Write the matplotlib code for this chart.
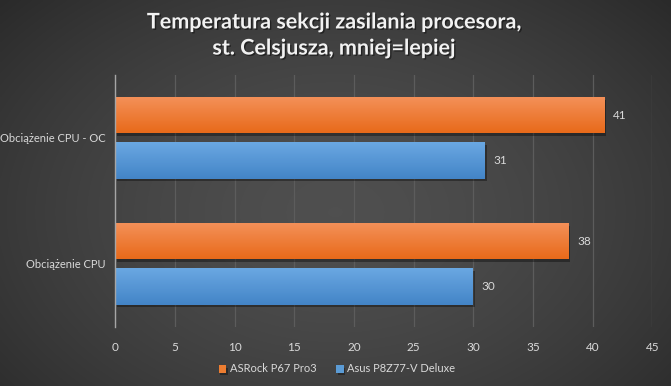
import matplotlib
matplotlib.use('Agg')
import matplotlib.pyplot as plt
import matplotlib.patheffects as pe
import numpy as np

# data
categories = ['Obciążenie CPU', 'Obciążenie CPU - OC']
series_names = ['ASRock P67 Pro3', 'Asus P8Z77-V Deluxe']
asrock = [38, 41]
asus = [30, 31]
xticks = [0, 5, 10, 15, 20, 25, 30, 35, 40, 45]

title = 'Temperatura sekcji zasilania procesora,\nst. Celsjusza, mniej=lepiej'

plt.rcParams['font.family'] = ['Lato', 'DejaVu Sans']
txt_col = '#d9d9d9'

fig = plt.figure(figsize=(6.71, 3.86), dpi=100)

# background radial gradient
bg = fig.add_axes([0, 0, 1, 1], zorder=-10)
yy, xx = np.mgrid[0:1:200j, 0:1:350j]
r = np.sqrt(((xx - 0.5) / 0.75) ** 2 + ((yy - 0.55) / 0.9) ** 2)
shade = np.clip(0.31 - 0.17 * r ** 1.6, 0.13, 0.33)
bg.imshow(np.dstack([shade] * 3), aspect='auto', extent=[0, 1, 0, 1], interpolation='bilinear')
bg.set_axis_off()

ax = fig.add_axes([115.3 / 671, 1 - 326.7 / 386, (652.3 - 115.3) / 671, (326.7 - 74.7) / 386])
ax.set_facecolor('none')

y = np.arange(len(categories))
h = 0.29
off = 0.18
shadow = [pe.SimplePatchShadow(offset=(1, -2), shadow_rgbFace='black', alpha=0.35), pe.Normal()]

bars_a = ax.barh(y + off, asrock, height=h, color='#ED7D31', label=series_names[0], zorder=3,
                 path_effects=shadow)
bars_b = ax.barh(y - off, asus, height=h, color='#5B9BD5', label=series_names[1], zorder=3,
                 path_effects=shadow)

# vertical gradient fill on bars
def grad(bars, top, bot):
    top = np.array(matplotlib.colors.to_rgb(top))
    bot = np.array(matplotlib.colors.to_rgb(bot))
    t = np.linspace(0, 1, 64)[:, None]
    img = (top * (1 - t) + bot * t)[:, None, :]
    for b in bars:
        x0, y0 = b.get_x(), b.get_y()
        im = ax.imshow(img, aspect='auto', extent=[x0, x0 + b.get_width(), y0, y0 + b.get_height()],
                       zorder=4, interpolation='bilinear')
        im.set_clip_path(b)

grad(bars_a, '#F4915A', '#E86A1A')
grad(bars_b, '#6AA8E2', '#4384C7')

for bars, vals in ((bars_a, asrock), (bars_b, asus)):
    for b, v in zip(bars, vals):
        ax.annotate(str(v), (v, b.get_y() + b.get_height() / 2), xytext=(6, 0),
                    textcoords='offset points', va='center', ha='left', color=txt_col, fontsize=8.5)

ax.set_xlim(0, 45)
ax.set_ylim(-0.5, 1.5)
ax.set_xticks(xticks)
ax.set_xticklabels([str(v) for v in xticks], color=txt_col, fontsize=8.5)
ax.set_yticks(y)
ax.set_yticklabels(categories, color=txt_col, fontsize=8)
ax.tick_params(length=0, pad=7)
ax.tick_params(axis='x', pad=11)
ax.grid(axis='x', color='#5c5c5c', linewidth=0.9, zorder=0)
ax.set_axisbelow(True)
for s in ['top', 'right', 'bottom']:
    ax.spines[s].set_visible(False)
ax.spines['left'].set_color('#a6a6a6')
ax.spines['left'].set_linewidth(1.0)
ax.spines['left'].set_zorder(5)

fig.text(0.497, 1 - 35 / 386, title, ha='center', va='center', color='#f2f2f2',
         fontsize=15.5, fontweight='bold', linespacing=1.3,
         path_effects=[pe.withSimplePatchShadow(offset=(1, -1), shadow_rgbFace='black', alpha=0.45)])

leg = fig.legend(handles=[bars_a, bars_b], labels=series_names, loc='center',
                 bbox_to_anchor=(337 / 671, 1 - 369 / 386), ncol=2, frameon=False,
                 fontsize=8, handlelength=0.7, handleheight=0.7, handletextpad=0.3,
                 columnspacing=1.8, labelcolor=txt_col)

fig.savefig('out.png', dpi=100)
